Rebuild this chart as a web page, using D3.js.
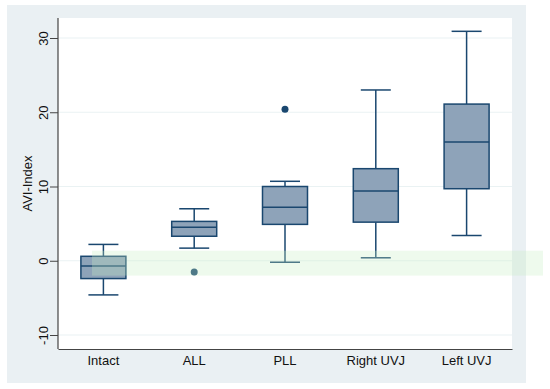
<!DOCTYPE html>
<html>
<head>
<meta charset="utf-8">
<script src="https://d3js.org/d3.v7.min.js"></script>
<style>
  body { margin: 0; background: #fff; }
  text { font-family: "Liberation Sans", Arial, sans-serif; }
</style>
</head>
<body>
<script>
// box plot data
var categories = ["Intact", "ALL", "PLL", "Right UVJ", "Left UVJ"];
var whiskerLow  = [-4.6, 1.7, -0.2, 0.4, 3.4];
var q1          = [-2.4, 3.3, 4.9, 5.2, 9.7];
var median      = [-0.7, 4.5, 7.2, 9.4, 16.0];
var q3          = [0.6, 5.3, 10.0, 12.4, 21.1];
var whiskerHigh = [2.2, 7.0, 10.7, 23.0, 30.9];
var outliers    = [[], [-1.5], [20.4], [], []];
var yTicks = [-10, 0, 10, 20, 30];
var band = [-2.0, 1.35];

var width = 550, height = 389;
var plot = {left: 58, right: 512, top: 18, bottom: 349};

var svg = d3.select("body").append("svg")
    .attr("width", width)
    .attr("height", height);

// outer grey panel
svg.append("rect")
    .attr("x", 7).attr("y", 5)
    .attr("width", 519).attr("height", 378)
    .attr("fill", "#eaf0f3");

svg.append("rect")
    .attr("x", plot.left).attr("y", plot.top)
    .attr("width", plot.right - plot.left).attr("height", plot.bottom - plot.top)
    .attr("fill", "#fff");

var y = d3.scaleLinear()
    .domain([-10, 30])
    .range([335, 38]);

var x = d3.scaleBand()
    .domain(categories)
    .range([plot.left, plot.right])
    .paddingInner(0)
    .paddingOuter(0);

// grid
svg.selectAll(".grid")
    .data(yTicks)
    .enter().append("line")
    .attr("x1", plot.left).attr("x2", plot.right)
    .attr("y1", function(d) { return y(d); })
    .attr("y2", function(d) { return y(d); })
    .attr("stroke", "#eaf2f3")
    .attr("stroke-width", 1.2);

// y axis
var yAxis = d3.axisLeft(y).tickValues(yTicks).tickSize(8).tickSizeOuter(0)
    .tickFormat(function(d) { return String(d); });
var gy = svg.append("g")
    .attr("transform", "translate(" + plot.left + ",0)")
    .call(yAxis);
gy.select(".domain").attr("d", "M0," + plot.top + "V" + plot.bottom)
    .attr("stroke", "#444").attr("stroke-width", 1.2);
gy.selectAll(".tick line").attr("stroke", "#444");
gy.selectAll(".tick text")
    .attr("transform", "rotate(-90)")
    .attr("x", 0).attr("y", -10)
    .attr("dy", 0)
    .attr("text-anchor", "middle")
    .attr("font-size", 13)
    .attr("fill", "#111");

svg.append("text")
    .attr("transform", "translate(32," + ((plot.top + plot.bottom) / 2) + ") rotate(-90)")
    .attr("text-anchor", "middle")
    .attr("font-size", 13)
    .attr("fill", "#111")
    .text("AVI-Index");

// x axis
var xAxis = d3.axisBottom(x).tickSize(0).tickPadding(7);
var gx = svg.append("g")
    .attr("transform", "translate(0," + plot.bottom + ")")
    .call(xAxis);
gx.select(".domain").attr("stroke", "#444").attr("stroke-width", 1.2);
gx.selectAll(".tick text").attr("font-size", 13).attr("fill", "#111");

// boxes
var navy = "#1a476f";
var boxW = 45, capW = 30;
var rows = categories.map(function(c, i) {
    return {c: c, lo: whiskerLow[i], q1: q1[i], med: median[i], q3: q3[i], hi: whiskerHigh[i], out: outliers[i]};
});

var g = svg.selectAll(".box")
    .data(rows)
    .enter().append("g")
    .attr("transform", function(d) { return "translate(" + (x(d.c) + x.bandwidth() / 2) + ",0)"; });

g.append("line")
    .attr("y1", function(d) { return y(d.hi); })
    .attr("y2", function(d) { return y(d.q3); })
    .attr("stroke", navy).attr("stroke-width", 1.5);
g.append("line")
    .attr("y1", function(d) { return y(d.q1); })
    .attr("y2", function(d) { return y(d.lo); })
    .attr("stroke", navy).attr("stroke-width", 1.5);
g.append("line")
    .attr("x1", -capW / 2).attr("x2", capW / 2)
    .attr("y1", function(d) { return y(d.hi); })
    .attr("y2", function(d) { return y(d.hi); })
    .attr("stroke", navy).attr("stroke-width", 1.5);
g.append("line")
    .attr("x1", -capW / 2).attr("x2", capW / 2)
    .attr("y1", function(d) { return y(d.lo); })
    .attr("y2", function(d) { return y(d.lo); })
    .attr("stroke", navy).attr("stroke-width", 1.5);
g.append("rect")
    .attr("x", -boxW / 2).attr("width", boxW)
    .attr("y", function(d) { return y(d.q3); })
    .attr("height", function(d) { return y(d.q1) - y(d.q3); })
    .attr("fill", "#8ea3b9")
    .attr("stroke", navy).attr("stroke-width", 1.5);
g.append("line")
    .attr("x1", -boxW / 2).attr("x2", boxW / 2)
    .attr("y1", function(d) { return y(d.med); })
    .attr("y2", function(d) { return y(d.med); })
    .attr("stroke", navy).attr("stroke-width", 1.5);
g.selectAll(".out")
    .data(function(d) { return d.out; })
    .enter().append("circle")
    .attr("cy", function(v) { return y(v); })
    .attr("r", 3.5)
    .attr("fill", navy);

// translucent green band drawn over everything
svg.append("rect")
    .attr("x", 92).attr("width", 451)
    .attr("y", y(band[1]))
    .attr("height", y(band[0]) - y(band[1]))
    .attr("fill", "#c8eec4")
    .attr("opacity", 0.3);
</script>
</body>
</html>
